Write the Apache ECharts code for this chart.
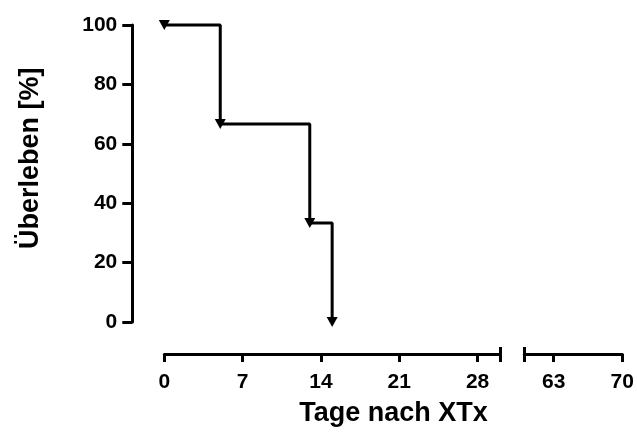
<!DOCTYPE html>
<html>
<head>
<meta charset="utf-8">
<script src="https://cdn.jsdelivr.net/npm/echarts@6/dist/echarts.min.js"></script>
<style>
html,body{margin:0;padding:0;background:#fff;}
#main{width:637px;height:439px;}
</style>
</head>
<body>
<div id="main"></div>
<script>
// Data
const days = [0, 5, 13, 15];
const survival = [100, 66.7, 33.3, 0];
const yTicks = [0, 20, 40, 60, 80, 100];
const xTicksLeft = [0, 7, 14, 21, 28];
const xTicksRight = [63, 70];
const xRangeLeft = [0, 30];
const xRangeRight = [60, 70];
const xTitle = 'Tage nach XTx';
const yTitle = 'Überleben [%]';

const FONT = '"Liberation Sans", Arial, Helvetica, sans-serif';
const chart = echarts.init(document.getElementById('main'), null, {renderer: 'canvas'});

const axisLine = {show: true, onZero: false, lineStyle: {color: '#000', width: 3}};
const labelStyle = {color: '#000', fontSize: 21, fontWeight: 'bold', fontFamily: FONT};

chart.setOption({
  animation: false,
  backgroundColor: '#fff',
  grid: [
    {left: 164.3, top: 25, width: 335.7, height: 297},
    {left: 524.3, top: 25, width: 98, height: 297}
  ],
  xAxis: [
    {
      type: 'value', gridIndex: 0, position: 'bottom', offset: 32,
      min: xRangeLeft[0], max: xRangeLeft[1],
      axisLine: axisLine,
      axisTick: {show: true, length: 8, lineStyle: {color: '#000', width: 3},
                 customValues: xTicksLeft.concat([xRangeLeft[1]])},
      axisLabel: Object.assign({margin: 18, customValues: xTicksLeft}, labelStyle),
      splitLine: {show: false}
    },
    {
      type: 'value', gridIndex: 0, position: 'bottom', offset: 32,
      min: xRangeLeft[0], max: xRangeLeft[1],
      axisLine: {show: false, onZero: false},
      axisTick: {show: true, inside: true, length: 7, lineStyle: {color: '#000', width: 3},
                 customValues: [xRangeLeft[1]]},
      axisLabel: {show: false},
      splitLine: {show: false}
    },
    {
      type: 'value', gridIndex: 1, position: 'bottom', offset: 32,
      min: xRangeRight[0], max: xRangeRight[1],
      axisLine: axisLine,
      axisTick: {show: true, length: 8, lineStyle: {color: '#000', width: 3},
                 customValues: [xRangeRight[0]].concat(xTicksRight)},
      axisLabel: Object.assign({margin: 18, customValues: xTicksRight}, labelStyle),
      splitLine: {show: false}
    },
    {
      type: 'value', gridIndex: 1, position: 'bottom', offset: 32,
      min: xRangeRight[0], max: xRangeRight[1],
      axisLine: {show: false, onZero: false},
      axisTick: {show: true, inside: true, length: 7, lineStyle: {color: '#000', width: 3},
                 customValues: [xRangeRight[0]]},
      axisLabel: {show: false},
      splitLine: {show: false}
    }
  ],
  yAxis: [
    {
      type: 'value', gridIndex: 0, position: 'left', offset: 32,
      min: 0, max: 100, interval: 20,
      axisLine: axisLine,
      axisTick: {show: true, length: 10, lineStyle: {color: '#000', width: 3}, customValues: yTicks},
      axisLabel: Object.assign({margin: 15, customValues: yTicks}, labelStyle),
      splitLine: {show: false}
    },
    {
      type: 'value', gridIndex: 1, min: 0, max: 100, show: false,
      splitLine: {show: false}
    }
  ],
  graphic: [
    {
      type: 'text', x: 393.5, y: 414,
      style: {text: xTitle, font: 'bold 27px ' + FONT, fill: '#000',
              textAlign: 'center', textVerticalAlign: 'middle', align: 'center', verticalAlign: 'middle'}
    },
    {
      type: 'text', x: 30.5, y: 158.3, rotation: Math.PI / 2,
      style: {text: yTitle, font: 'bold 27px ' + FONT, fill: '#000',
              textAlign: 'center', textVerticalAlign: 'middle', align: 'center', verticalAlign: 'middle'}
    }
  ],
  series: [
    {
      type: 'line', xAxisIndex: 0, yAxisIndex: 0,
      step: 'end',
      data: days.map((d, i) => [d, survival[i]]),
      symbol: 'triangle', symbolRotate: 180, symbolSize: [11, 10],
      showAllSymbol: true,
      itemStyle: {color: '#000'},
      lineStyle: {color: '#000', width: 3},
      clip: false
    }
  ]
});
</script>
</body>
</html>
